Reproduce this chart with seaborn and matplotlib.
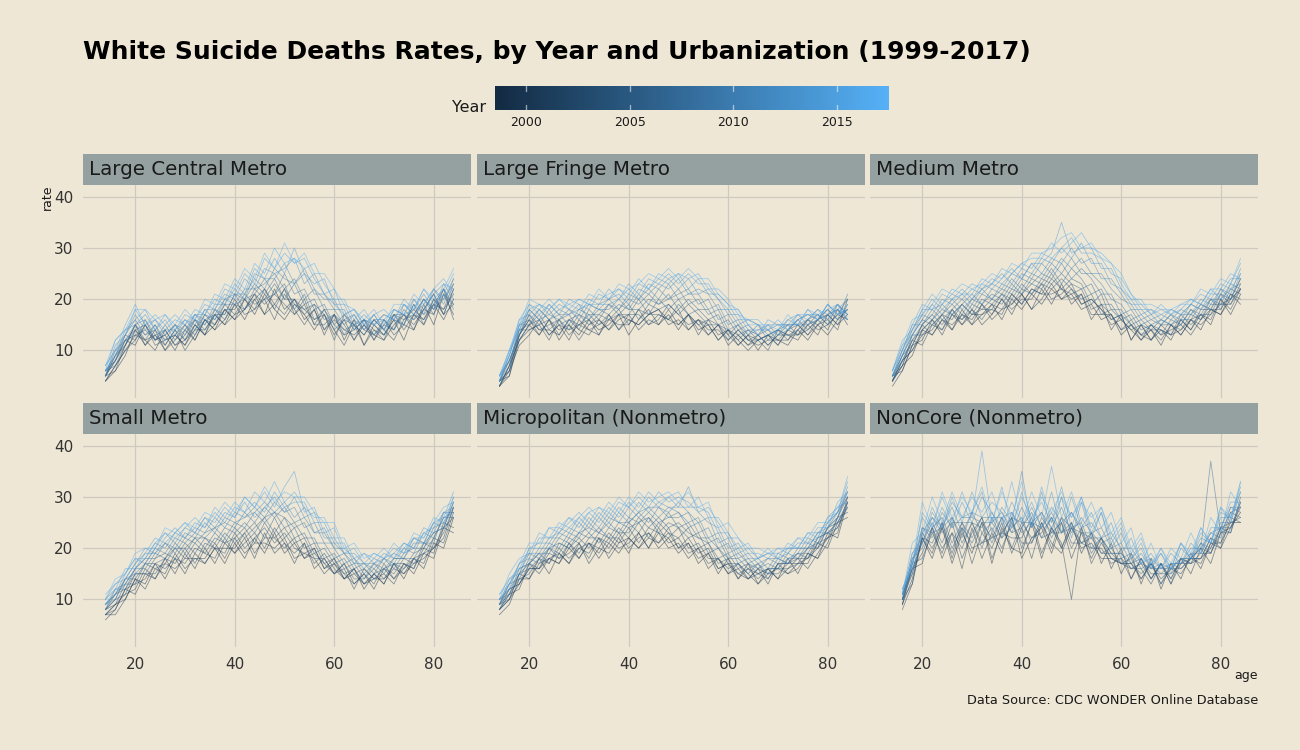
import numpy as np
import pandas as pd
import matplotlib
matplotlib.use("Agg")
import matplotlib.pyplot as plt
import seaborn as sns
from matplotlib.colors import LinearSegmentedColormap, Normalize

# ---------------- data ----------------
YEARS = list(range(1999, 2018))
FACETS = ["Large Central Metro", "Large Fringe Metro", "Medium Metro",
          "Small Metro", "Micropolitan (Nonmetro)", "NonCore (Nonmetro)"]
AGES = list(range(14, 85, 2))        # used by the first five facets
AGES_NONCORE = list(range(16, 85, 2))
X_TICKS = [20, 40, 60, 80]
Y_TICKS = [10, 20, 30, 40]
CBAR_TICKS = [2000, 2005, 2010, 2015]

LARGE_CENTRAL = [
    [4,6,9,14,11,14,10,13,11,15,13,17,15,19,16,20,17,22,18,20,16,18,13,17,12,16,11,15,13,16,12,17,15,19,16,20],
    [5,8,12,11,15,12,13,10,14,12,16,14,18,16,20,17,21,18,16,19,17,14,17,13,16,12,15,13,12,15,17,14,19,15,21,17],
    [4,7,10,13,12,10,14,11,12,15,13,15,18,16,18,21,17,19,22,17,19,15,18,14,11,15,13,16,14,12,16,18,16,20,17,22],
    [5,6,11,15,11,13,11,14,10,13,16,14,16,20,17,18,20,16,21,18,15,18,14,16,14,13,15,12,16,13,15,14,18,17,22,16],
    [4,7,10,12,15,11,12,13,11,14,14,17,15,17,20,18,22,19,17,20,18,16,17,12,17,15,11,14,12,17,14,17,16,19,18,21],
    [5,9,11,14,12,13,10,12,15,12,16,15,19,17,18,21,19,21,19,17,20,15,15,17,13,14,16,12,15,14,17,15,18,21,17,19],
    [5,8,12,13,14,12,14,11,13,16,13,18,16,19,18,20,22,18,22,19,18,19,14,17,15,12,16,14,13,16,15,19,15,20,18,23],
    [6,7,11,15,12,15,11,14,12,14,17,15,18,18,21,19,20,23,20,20,17,19,17,14,16,15,13,16,14,17,16,17,20,17,21,19],
    [5,9,13,12,16,12,13,15,12,16,14,17,17,21,18,22,20,21,23,18,21,16,18,15,13,16,14,13,16,14,18,16,18,21,17,22],
    [6,8,11,15,13,14,12,13,15,13,17,16,19,19,20,23,21,24,20,23,19,20,16,17,14,15,16,13,15,17,15,19,17,19,22,18],
    [5,10,12,14,15,12,15,12,14,16,15,18,17,21,20,21,24,21,25,21,22,18,19,15,17,14,16,15,13,17,17,16,20,18,20,23],
    [6,8,13,16,13,15,12,15,13,17,16,17,20,19,22,22,23,25,22,24,20,22,18,18,15,17,14,16,16,14,19,17,20,18,22,19],
    [6,9,12,15,16,13,14,14,16,14,18,16,20,21,21,24,22,26,24,23,25,21,21,18,18,14,16,15,17,16,15,20,17,22,19,24],
    [5,11,13,17,14,16,13,15,14,17,15,19,19,22,20,25,24,24,27,23,26,22,20,20,16,17,14,17,14,18,17,18,21,18,23,20],
    [6,9,14,15,17,14,16,13,16,15,18,18,21,20,24,22,26,25,26,28,23,25,21,19,19,15,17,15,17,16,19,17,19,22,20,24],
    [7,10,13,18,15,16,14,16,15,17,17,20,19,23,21,26,24,28,25,30,25,23,24,19,17,18,15,17,14,18,17,20,18,21,23,22],
    [6,12,14,16,18,14,17,14,17,16,19,18,22,21,25,23,28,26,29,27,28,24,21,22,17,18,15,17,18,16,20,18,22,19,21,25],
    [7,10,15,19,15,17,15,17,15,18,17,21,20,24,22,27,25,30,27,28,26,27,23,20,20,16,18,15,16,18,17,21,19,22,24,21],
    [7,12,14,18,18,16,17,15,18,16,20,19,23,22,26,24,29,26,31,27,29,25,25,22,19,18,16,18,15,19,19,18,22,20,22,26],
]

LARGE_FRINGE = [
    [3,5,12,15,13,16,12,15,13,16,14,15,17,13,16,18,15,17,14,17,14,15,12,14,11,13,10,13,12,11,14,12,15,13,16,18],
    [3,6,11,13,16,13,15,12,16,14,13,17,14,16,15,17,18,15,16,14,16,13,15,11,13,11,13,11,13,13,12,15,13,17,15,17],
    [4,5,13,16,14,14,13,16,14,13,16,14,16,17,14,16,15,18,15,17,13,16,13,14,12,10,12,13,11,14,13,14,16,14,18,15],
    [3,7,12,14,15,12,16,13,15,16,13,16,15,15,18,15,17,16,18,14,16,14,14,12,14,12,11,12,12,12,15,13,15,16,14,20],
    [4,6,13,16,13,16,14,15,12,15,16,14,17,16,15,17,18,16,15,17,15,13,15,13,11,13,12,10,14,13,13,16,14,15,17,16],
    [3,7,12,15,16,13,15,14,15,14,15,17,14,17,17,15,16,19,17,15,16,15,12,14,13,11,12,13,11,14,15,13,16,17,15,19],
    [4,6,14,14,15,16,13,16,15,17,15,16,18,15,18,17,17,16,19,17,15,16,15,12,14,12,12,13,14,12,14,16,15,17,18,16],
    [4,8,13,17,14,15,16,14,17,15,17,16,17,19,16,19,18,19,17,19,17,15,15,14,12,14,13,11,13,15,13,15,17,15,17,20],
    [3,7,14,15,17,14,16,17,14,18,16,19,17,17,20,17,20,18,20,17,18,16,17,13,15,12,13,14,12,14,16,14,16,18,16,18],
    [4,8,13,17,15,18,15,16,17,16,18,17,19,18,18,20,19,21,18,20,18,18,15,16,13,14,12,13,14,13,14,16,17,15,19,17],
    [4,7,15,15,18,16,17,15,18,17,17,19,18,20,19,21,19,20,22,19,20,17,18,14,15,13,15,12,14,15,15,15,16,18,16,21],
    [5,8,13,18,16,17,16,18,16,19,18,18,20,18,21,19,22,20,21,22,19,20,16,17,14,15,13,15,13,14,16,17,16,17,19,17],
    [4,9,15,16,18,16,18,17,19,16,19,20,18,21,20,22,20,23,20,21,21,18,19,15,16,13,14,14,15,15,15,16,18,16,18,20],
    [5,8,14,18,16,19,17,17,18,19,18,20,21,19,22,21,23,22,24,21,22,21,18,18,15,16,15,13,14,16,17,15,16,19,17,18],
    [4,9,16,17,19,17,19,18,17,20,19,19,20,22,20,23,22,24,22,24,21,22,20,17,17,14,14,15,15,14,16,17,17,16,19,16],
    [5,10,14,19,17,19,17,20,19,18,21,20,22,20,23,22,24,23,25,22,24,21,21,19,16,16,15,14,13,16,15,18,16,19,17,18],
    [5,9,15,18,19,18,20,18,20,19,19,22,20,23,21,24,23,25,23,25,23,23,20,18,18,15,13,16,15,15,17,16,18,17,18,17],
    [4,10,16,19,18,20,18,19,18,21,20,21,22,21,24,22,25,24,25,24,25,22,22,20,17,16,16,14,16,14,17,17,16,19,17,19],
    [5,10,15,20,19,18,20,19,20,19,22,20,23,22,23,25,24,26,24,26,24,24,21,19,18,15,15,15,14,17,15,18,17,18,19,16],
]

MEDIUM = [
    [4,7,9,14,13,16,14,18,15,17,19,16,20,18,21,19,22,20,21,18,19,16,17,13,15,12,14,11,15,13,16,14,18,17,20,22],
    [3,6,11,12,16,13,17,15,18,15,17,20,17,21,18,22,19,23,19,21,16,19,14,17,12,15,12,14,12,16,14,17,15,20,17,21],
    [4,8,10,13,14,17,14,17,16,19,16,18,19,21,18,20,23,20,22,19,20,18,15,16,14,12,15,13,14,15,13,16,18,17,21,19],
    [4,7,12,11,15,14,18,15,17,17,18,17,21,19,22,21,21,22,20,21,17,17,17,14,15,13,12,15,13,14,16,15,17,19,19,23],
    [5,6,11,15,13,16,15,17,15,19,17,20,18,20,20,23,20,21,23,19,20,18,16,17,12,15,14,12,15,13,16,17,16,20,18,22],
    [4,8,10,14,16,14,17,16,18,16,19,18,21,19,22,21,24,22,21,22,18,19,17,14,16,13,14,14,13,16,14,18,18,18,21,20],
    [5,7,13,13,15,17,16,19,17,18,18,21,19,22,21,23,22,24,22,20,21,17,18,16,14,15,12,15,15,14,17,16,19,19,20,24],
    [4,9,11,15,17,15,18,16,19,18,20,19,22,21,23,22,25,22,24,23,19,21,16,17,15,13,15,14,13,17,15,17,17,21,19,22],
    [5,8,12,14,16,18,17,19,17,20,19,21,20,23,21,24,23,25,23,22,23,19,19,16,17,14,15,13,16,15,18,16,20,18,22,21],
    [5,9,13,16,15,17,19,17,20,19,21,20,23,21,24,23,26,23,26,24,21,22,18,18,15,16,14,16,15,16,16,19,18,21,20,24],
    [4,8,12,15,18,16,18,20,18,21,20,22,21,24,23,25,24,27,24,26,24,21,21,17,18,15,16,15,17,15,18,17,20,19,23,22],
    [5,10,14,17,16,19,17,19,21,19,22,21,24,22,25,24,27,25,28,25,25,23,20,19,16,17,15,16,15,17,17,19,18,22,20,25],
    [5,9,13,16,19,17,20,18,20,22,20,23,22,25,24,27,25,28,26,28,25,25,22,20,19,16,17,15,17,16,19,18,20,20,22,23],
    [6,10,15,15,17,20,19,21,19,22,23,22,25,24,27,25,28,27,30,27,28,24,24,21,18,18,16,17,16,18,17,20,19,22,21,26],
    [5,9,14,18,18,19,21,20,22,21,23,25,23,26,25,28,27,30,28,31,27,27,23,22,20,17,18,16,18,17,19,18,21,21,24,24],
    [6,11,13,17,20,18,20,22,20,23,22,24,26,24,27,27,29,35,29,30,30,26,26,22,19,19,17,18,17,18,20,19,22,20,23,27],
    [5,10,15,19,18,21,20,21,23,22,24,23,25,27,26,29,28,30,32,29,29,28,25,24,21,18,18,17,18,17,19,21,20,23,22,25],
    [6,12,14,18,21,19,22,21,21,24,23,26,25,27,28,28,31,29,31,33,30,29,27,23,20,20,17,19,17,19,20,19,22,22,25,24],
    [6,11,16,17,19,22,21,23,22,23,25,24,27,26,29,29,30,32,33,30,31,28,27,25,21,19,19,18,18,19,19,22,21,24,23,28],
]

SMALL = [
    [7,9,10,14,13,17,14,18,15,19,17,20,17,21,18,22,19,23,19,21,18,20,16,18,14,16,12,15,13,17,14,18,16,21,20,26],
    [6,8,12,11,15,14,18,15,19,16,20,17,21,19,22,18,23,19,21,17,21,16,18,15,17,13,15,12,16,14,17,15,19,18,24,23],
    [7,7,10,14,12,16,15,19,16,18,18,21,18,22,19,21,21,20,22,18,19,18,15,17,14,15,13,14,14,16,15,17,18,20,22,28],
    [8,9,11,12,16,14,17,16,18,18,17,20,20,20,23,19,22,22,20,22,18,19,17,15,16,12,16,14,15,13,17,16,20,19,25,24],
    [7,8,12,13,14,17,16,18,17,20,19,18,22,19,21,23,20,24,21,19,21,17,19,16,14,16,13,15,13,17,15,18,17,22,21,27],
    [8,10,11,15,15,15,18,17,20,17,21,20,19,23,20,22,24,21,23,20,19,20,16,17,15,13,15,13,17,14,16,18,19,20,24,26],
    [7,9,13,13,17,16,17,20,18,21,19,22,21,22,24,21,25,22,24,21,22,18,18,15,17,14,14,16,14,17,17,16,21,20,23,28],
    [8,11,12,15,15,18,19,18,21,19,22,20,23,21,23,25,22,26,22,24,20,21,17,18,15,16,13,15,16,15,18,17,19,22,26,26],
    [8,10,14,14,17,17,18,21,19,22,20,23,21,24,22,24,26,23,26,22,23,19,20,17,18,15,16,14,16,17,16,19,20,23,24,29],
    [9,11,13,16,16,19,18,20,20,22,22,21,24,23,25,23,26,27,24,25,22,22,18,19,16,17,14,17,15,18,18,18,21,21,27,27],
    [8,12,12,16,18,18,21,19,22,21,23,24,22,25,24,27,25,27,26,24,25,21,21,18,19,16,17,15,18,16,19,20,20,24,25,28],
    [9,11,14,15,17,20,19,22,21,23,22,24,25,24,27,25,28,26,28,25,26,23,23,20,17,18,15,17,16,18,18,21,21,23,24,29],
    [9,10,14,17,19,19,21,20,23,22,25,23,26,25,26,28,26,29,27,28,24,25,21,21,19,17,17,16,18,17,20,19,23,22,26,27],
    [10,12,13,16,18,21,20,23,22,24,23,26,24,27,26,27,29,27,29,26,28,23,24,20,20,18,16,18,17,19,18,22,21,25,24,30],
    [9,11,15,18,17,20,23,21,24,23,26,24,27,26,29,26,28,30,27,30,26,27,22,22,19,19,17,17,19,18,21,20,24,23,27,26],
    [10,13,14,17,20,19,22,24,22,25,24,27,25,28,27,29,27,31,28,29,29,25,25,21,21,17,19,17,18,20,19,22,21,25,26,31],
    [9,12,16,16,19,22,21,23,25,23,26,25,28,26,30,28,31,28,32,35,27,28,23,24,19,20,17,19,18,19,21,20,23,24,27,28],
    [11,13,15,18,18,21,23,22,24,26,24,28,26,29,27,31,29,33,29,31,28,26,26,22,22,18,19,18,20,18,20,22,22,26,25,30],
    [10,14,15,19,20,20,24,23,25,24,27,26,29,27,30,28,32,29,31,30,30,27,25,25,20,21,18,19,18,21,19,23,22,25,28,29],
]

MICRO = [
    [8,10,13,16,16,18,17,20,18,21,18,21,19,22,20,23,20,22,19,21,17,19,15,18,14,17,13,16,14,18,15,19,18,23,22,29],
    [7,9,14,14,18,15,19,17,21,17,20,19,22,19,23,20,23,20,21,18,20,16,18,15,16,14,16,13,17,15,17,17,21,20,25,26],
    [9,11,12,17,15,18,19,17,20,19,22,18,21,22,20,22,21,23,20,21,18,19,16,17,15,14,15,16,14,16,18,16,19,22,23,30],
    [8,10,15,14,17,18,17,21,18,21,19,22,20,21,23,20,24,21,22,19,20,17,18,15,17,15,13,15,16,15,16,19,18,21,26,27],
    [9,12,13,16,16,19,18,19,21,18,22,20,23,20,22,23,21,24,20,22,19,20,16,17,14,16,15,14,17,17,17,18,21,22,24,29],
    [8,11,14,15,18,17,20,18,20,21,20,23,21,24,21,24,23,22,24,20,21,18,18,16,17,14,16,15,15,17,18,18,20,24,25,28],
    [9,10,15,17,16,20,18,21,19,22,22,21,24,22,25,22,25,23,22,24,20,21,17,18,15,16,14,16,16,16,17,20,20,22,26,30],
    [8,12,13,17,19,17,21,20,22,20,23,22,22,25,23,26,23,25,24,22,23,19,20,17,17,15,17,14,17,17,19,18,22,23,24,28],
    [10,11,15,16,18,20,19,22,21,23,21,24,23,23,26,24,26,24,25,23,22,21,18,19,16,17,15,16,16,18,18,20,21,24,26,31],
    [9,13,14,18,17,20,21,20,23,22,24,22,25,24,25,26,24,27,24,25,22,22,20,18,18,16,17,15,18,17,19,19,22,23,25,29],
    [8,11,16,17,19,19,22,21,23,24,23,25,23,26,25,27,25,26,27,24,25,21,22,18,19,17,16,17,16,19,18,21,20,24,27,30],
    [10,12,15,19,18,21,20,23,22,25,23,26,25,25,27,25,28,26,26,27,23,24,20,21,17,18,16,18,18,17,20,20,23,23,25,29],
    [9,13,16,17,20,20,23,22,25,23,26,24,27,25,27,28,26,28,27,25,26,22,23,19,20,17,18,16,19,18,19,22,21,25,27,31],
    [10,12,17,19,19,22,22,24,23,26,24,27,25,28,26,28,28,27,29,27,25,26,21,22,18,19,17,18,17,20,20,20,23,24,26,32],
    [9,14,15,20,21,21,24,23,26,24,27,25,28,26,29,27,29,28,28,32,27,25,24,20,21,18,18,19,18,19,21,21,22,26,28,29],
    [10,13,17,18,22,22,23,26,24,27,25,28,26,29,27,30,28,30,28,28,28,27,23,23,19,20,18,19,19,20,20,23,23,25,27,33],
    [11,14,16,20,20,24,23,25,27,25,28,26,29,28,30,28,31,29,30,29,27,28,25,22,22,19,19,18,20,19,22,21,24,24,29,31],
    [10,15,18,19,23,22,25,24,26,28,26,29,27,30,28,31,29,30,31,28,30,26,26,23,20,21,18,20,18,21,20,23,22,26,27,34],
    [11,13,17,21,21,24,24,26,25,27,28,27,30,28,31,29,30,31,29,31,28,29,24,25,22,20,20,19,20,20,22,22,25,25,28,31],
]

NONCORE = [
    [9,14,22,18,24,17,23,19,25,17,24,20,19,25,18,24,20,25,19,23,17,21,15,19,13,18,12,17,14,19,16,21,21,25,25],
    [10,16,17,24,18,23,16,24,18,23,19,26,18,22,24,19,25,18,23,18,22,16,20,14,18,14,17,13,18,15,20,17,23,24,28],
    [8,13,22,19,25,18,24,17,23,20,25,19,24,18,25,21,19,24,20,21,18,18,17,17,14,17,13,16,15,18,17,21,20,24,27],
    [9,17,18,23,19,25,18,23,26,18,23,22,22,26,19,24,21,10,24,17,21,18,17,16,16,13,17,14,18,17,18,20,24,25,26],
    [10,13,23,20,24,19,25,20,21,24,20,25,21,21,25,20,26,21,21,20,20,17,18,14,18,15,15,15,17,18,20,19,23,23,29],
    [9,16,19,24,20,23,20,25,21,22,26,20,25,22,23,26,20,24,21,22,19,19,17,18,14,17,14,16,16,18,18,22,20,26,25],
    [10,15,22,21,25,20,24,21,25,22,23,26,20,25,22,23,25,20,24,19,22,18,18,16,17,14,17,13,17,17,19,19,24,23,30],
    [11,16,21,25,21,26,21,25,20,26,22,24,26,21,26,23,23,25,21,23,19,20,17,17,15,17,13,17,16,18,18,22,21,27,26],
    [10,18,20,24,26,21,25,22,26,21,26,23,24,27,22,26,23,24,25,20,22,19,19,17,18,14,17,14,18,17,21,19,24,24,29],
    [11,15,24,23,24,26,22,27,23,25,22,27,23,25,27,22,26,24,23,22,22,19,19,16,17,16,16,16,18,18,20,37,23,27,28],
    [10,18,21,26,23,25,25,25,24,27,23,26,25,25,24,27,23,27,23,23,21,22,18,19,16,17,15,17,17,19,19,23,22,28,27],
    [11,17,24,22,27,24,26,26,25,25,27,23,28,24,27,24,28,23,26,23,24,20,21,17,19,16,17,16,18,18,21,20,25,25,31],
    [10,17,23,26,24,28,23,27,26,26,26,27,24,28,24,28,25,27,24,25,22,23,20,20,17,18,16,17,17,20,20,23,24,28,28],
    [11,19,21,27,24,29,26,27,31,23,28,25,35,24,31,23,30,22,29,22,27,20,23,18,20,16,19,15,20,18,22,21,26,26,32],
    [12,17,26,23,28,24,29,25,30,27,24,29,25,29,24,31,23,30,24,27,22,25,19,22,17,19,16,19,17,21,19,24,24,29,29],
    [11,19,22,28,24,30,25,31,26,29,27,24,30,26,29,25,32,24,30,23,27,21,24,18,21,16,20,16,21,18,23,21,27,26,31],
    [12,16,27,24,30,25,31,26,39,25,32,24,31,24,32,25,30,26,30,24,28,22,25,19,22,17,19,16,21,18,24,21,28,25,33],
    [11,21,23,30,25,31,26,30,27,31,25,33,25,31,26,36,26,31,25,29,24,27,21,24,17,21,16,20,18,23,19,26,23,31,28],
    [12,17,29,24,31,26,30,27,32,25,31,26,33,25,30,27,31,26,29,26,28,23,26,20,23,17,20,17,21,19,24,21,28,26,33],
]

FACET_DATA = [LARGE_CENTRAL, LARGE_FRINGE, MEDIUM, SMALL, MICRO, NONCORE]
FACET_AGES = [AGES, AGES, AGES, AGES, AGES, AGES_NONCORE]

# ---------------- long table ----------------
rows = []
bad = []
for name, table, ages in zip(FACETS, FACET_DATA, FACET_AGES):
    for yr, vals in zip(YEARS, table):
        if len(vals) != len(ages):
            bad.append((name, yr, len(vals)))
        for a, v in zip(ages, vals):
            rows.append((name, yr, a, v))
if bad:
    raise SystemExit(f"length mismatch: {bad}")
df = pd.DataFrame(rows, columns=["urbanization", "year", "age", "rate"])

# ---------------- style ----------------
BG = "#EFE7D6"
STRIP = "#95A1A0"
GRID = "#CFCABF"
TXT = "#333333"
W, H = 1300, 750

cmap = LinearSegmentedColormap.from_list("ggblue", ["#132B43", "#56B1F7"])
norm = Normalize(1999, 2017)

sns.set_style("white")
plt.rcParams["font.family"] = ["DejaVu Sans"]

fig = plt.figure(figsize=(13, 7.5), dpi=100, facecolor=BG)


def fx(x):
    return x / W


def fy(y):
    return 1 - y / H


col_left = [83, 477, 870]
col_w = 388
rows_px = [(154, 185, 398), (403, 434, 647)]

for i, name in enumerate(FACETS):
    r, c = divmod(i, 3)
    s_top, p_top, p_bot = rows_px[r]
    x0 = col_left[c]
    # strip
    sax = fig.add_axes([fx(x0), fy(p_top), col_w / W, (p_top - s_top) / H])
    sax.set_facecolor(STRIP)
    for sp in sax.spines.values():
        sp.set_visible(False)
    sax.set_xticks([]); sax.set_yticks([])
    sax.text(6 / col_w, 0.5, name, transform=sax.transAxes, ha="left",
             va="center", fontsize=14.3, color="#1a1a1a")
    # panel
    ax = fig.add_axes([fx(x0), fy(p_bot), col_w / W, (p_bot - p_top) / H])
    ax.set_facecolor(BG)
    sub = df[df["urbanization"] == name]
    sns.lineplot(data=sub, x="age", y="rate", hue="year", units="year",
                 estimator=None, palette=cmap, hue_norm=norm, legend=False,
                 linewidth=0.6, alpha=0.5, ax=ax)
    ax.set_xlim(9.5, 87.5)
    ax.set_ylim(0.7, 42.3)
    ax.set_xticks(X_TICKS)
    ax.set_yticks(Y_TICKS)
    ax.grid(True, color=GRID, linewidth=0.9)
    ax.set_axisbelow(True)
    for sp in ax.spines.values():
        sp.set_visible(False)
    ax.set_xlabel("")
    ax.set_ylabel("")
    ax.tick_params(axis="y", length=0, pad=7, labelsize=11, labelcolor=TXT)
    if c != 0:
        ax.set_yticklabels([])
    if r == 0:
        ax.tick_params(axis="x", length=0, labelbottom=False)
    else:
        ax.tick_params(axis="x", length=4, width=1.2, color=TXT, pad=3,
                       labelsize=11, labelcolor=TXT)

# axis titles
fig.text(fx(47), fy(185), "rate", rotation=90, ha="center", va="top",
         fontsize=9, color="#1a1a1a")
fig.text(fx(1258), fy(676), "age", ha="right", va="center", fontsize=9,
         color="#1a1a1a")
fig.text(fx(1258), fy(701), "Data Source: CDC WONDER Online Database",
         ha="right", va="center", fontsize=9.3, color="#1a1a1a")

# title
fig.text(fx(83), fy(52), "White Suicide Deaths Rates, by Year and Urbanization (1999-2017)",
         ha="left", va="center", fontsize=18, fontweight="bold", color="black")

# colourbar
cax = fig.add_axes([fx(495), fy(110), (889 - 495) / W, (110 - 86) / H])
grad = np.linspace(0, 1, 400).reshape(1, -1)
cax.imshow(grad, aspect="auto", cmap=cmap, extent=[1998.5, 2017.5, 0, 1])
cax.set_xlim(1998.5, 2017.5)
cax.set_ylim(0, 1)
for sp in cax.spines.values():
    sp.set_visible(False)
cax.set_yticks([])
cax.set_xticks(CBAR_TICKS)
cax.tick_params(axis="x", length=0, pad=4, labelsize=9, labelcolor="#1a1a1a")
for t in CBAR_TICKS:
    cax.plot([t, t], [0, 0.2], color="white", alpha=0.55, lw=1)
    cax.plot([t, t], [0.8, 1], color="white", alpha=0.55, lw=1)
fig.text(fx(486), fy(108), "Year", ha="right", va="center", fontsize=11.5,
         color="#1a1a1a")

fig.savefig("out.png", dpi=100, facecolor=BG)
